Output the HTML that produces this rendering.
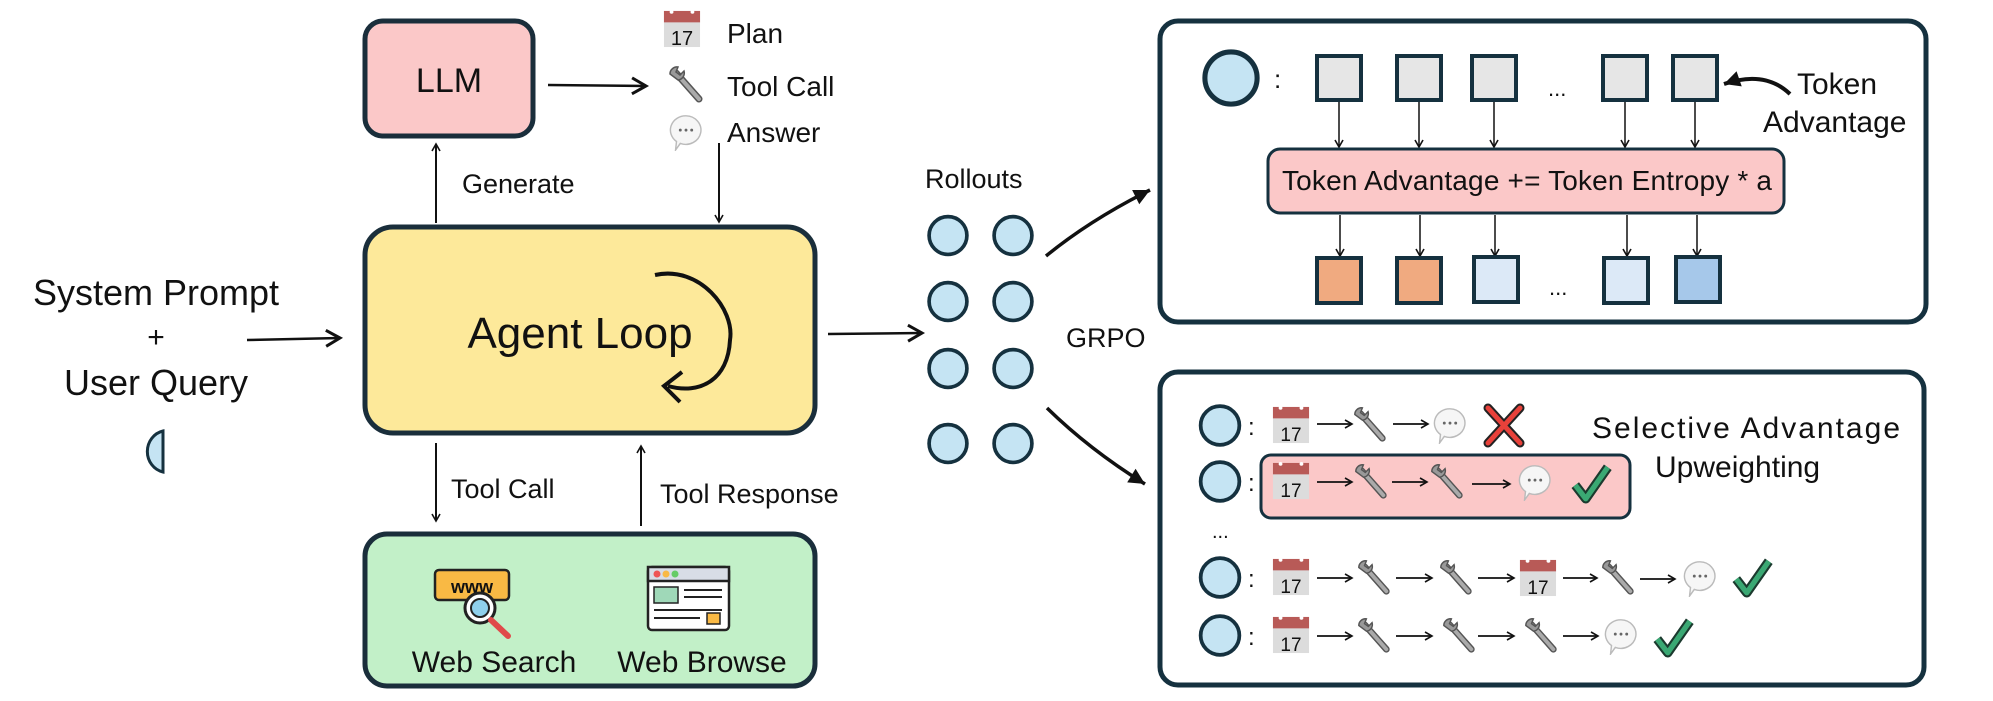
<!DOCTYPE html>
<html><head><meta charset="utf-8"><style>
html,body{margin:0;padding:0;background:#fff}
svg{display:block}
text{font-family:"Liberation Sans Narrow","Liberation Sans",sans-serif;fill:#111}
</style></head><body>
<svg width="1993" height="701" viewBox="0 0 1993 701" xmlns="http://www.w3.org/2000/svg">
<defs>
<marker id="ah" markerWidth="10" markerHeight="10" refX="8" refY="5" orient="auto" markerUnits="userSpaceOnUse"><path d="M1,1 L8,5 L1,9" fill="none" stroke="#111" stroke-width="1.6"/></marker>
<marker id="ahb" markerWidth="20" markerHeight="20" refX="16" refY="10" orient="auto" markerUnits="userSpaceOnUse"><path d="M2,2 L16,10 L2,18" fill="none" stroke="#111" stroke-width="3"/></marker>
<marker id="ahf" markerWidth="22" markerHeight="22" refX="18" refY="11" orient="auto" markerUnits="userSpaceOnUse"><path d="M2,3 L18,11 L2,19 Z" fill="#111"/></marker>
<symbol id="cal" viewBox="0 0 40 40"><rect x="1" y="1" width="38" height="38" fill="#dcdcdc"/><rect x="1" y="1" width="38" height="12" fill="#b85a57"/><circle cx="9" cy="2" r="2" fill="#fff"/><circle cx="31" cy="2" r="2" fill="#fff"/></symbol>
<symbol id="wr" viewBox="0 0 40 40"><line x1="10" y1="9" x2="33" y2="35" stroke="#555" stroke-width="7" stroke-linecap="round"/><line x1="10" y1="9" x2="33" y2="35" stroke="#aaa" stroke-width="4" stroke-linecap="round"/><path d="M4,10 A7,7 0 0 1 12,3 L10,8 L14,11 L18,7 A7,7 0 0 1 12,16 Z" fill="#999" stroke="#555" stroke-width="1.5"/></symbol>
<symbol id="bb" viewBox="0 0 40 40"><path d="M20,3 A16,15 0 1 1 14,32 L9,39 L10,30 A16,15 0 0 1 20,3 Z" fill="#f6f6f6" stroke="#bbb" stroke-width="1.5"/><circle cx="14" cy="18" r="1.5" fill="#666"/><circle cx="20" cy="18" r="1.5" fill="#666"/><circle cx="26" cy="18" r="1.5" fill="#666"/></symbol>
<symbol id="ck" viewBox="0 0 40 40"><path d="M5,22 L15,35 L36,5" fill="none" stroke="#1b3a2e" stroke-width="9" stroke-linejoin="round"/><path d="M5,22 L15,35 L36,5" fill="none" stroke="#3aa873" stroke-width="5" stroke-linejoin="round"/></symbol>
<symbol id="rc" viewBox="0 0 40 40"><circle cx="20" cy="20" r="18" fill="#c5e4f3" stroke="#15313f" stroke-width="3.5"/></symbol>
</defs>

<!-- LLM -->
<rect x="365" y="21" width="168" height="115" rx="18" fill="#fbc8c8" stroke="#1a2e3b" stroke-width="5"/>
<text x="449" y="92" font-size="34" text-anchor="middle">LLM</text>
<line x1="548" y1="85" x2="646" y2="86" stroke="#111" stroke-width="2.5" marker-end="url(#ahb)"/>

<!-- Plan / Tool Call / Answer -->
<use href="#cal" x="663" y="10" width="38" height="38"/><text x="682" y="45" font-size="20" fill="#555" text-anchor="middle">17</text>
<text x="727" y="43" font-size="28">Plan</text>
<use href="#wr" x="666" y="64" width="40" height="40"/>
<text x="727" y="96" font-size="28">Tool Call</text>
<use href="#bb" x="667" y="113" width="38" height="38"/>
<text x="727" y="142" font-size="28">Answer</text>
<line x1="719" y1="143" x2="719" y2="222" stroke="#111" stroke-width="2" marker-end="url(#ah)"/>

<!-- Generate -->
<line x1="436" y1="223" x2="436" y2="144" stroke="#111" stroke-width="2" marker-end="url(#ah)"/>
<text x="462" y="193" font-size="27">Generate</text>

<!-- Agent loop -->
<rect x="365" y="227" width="450" height="206" rx="28" fill="#fde99a" stroke="#1a2e3b" stroke-width="5"/>
<text x="580" y="348" font-size="44" text-anchor="middle">Agent Loop</text>
<path d="M655,275 C700,265 735,310 730,340 C728,380 700,395 668,386" fill="none" stroke="#111" stroke-width="4"/>
<path d="M682,372 L664,386 L680,402" fill="none" stroke="#111" stroke-width="4"/>

<!-- System prompt -->
<text x="156" y="305" font-size="36" text-anchor="middle">System Prompt</text>
<text x="156" y="347" font-size="30" text-anchor="middle">+</text>
<text x="156" y="395" font-size="36" text-anchor="middle">User Query</text>
<line x1="247" y1="340" x2="340" y2="338" stroke="#111" stroke-width="2.5" marker-end="url(#ahb)"/>
<path d="M163,431 A20,21 0 0 0 163,472 Z" fill="#c5e4f3" stroke="#15313f" stroke-width="3"/>

<!-- tool call / response -->
<line x1="436" y1="443" x2="436" y2="521" stroke="#111" stroke-width="2" marker-end="url(#ah)"/>
<text x="451" y="498" font-size="27">Tool Call</text>
<line x1="641" y1="526" x2="641" y2="446" stroke="#111" stroke-width="2" marker-end="url(#ah)"/>
<text x="660" y="503" font-size="27">Tool Response</text>

<!-- green -->
<rect x="365" y="534" width="450" height="152" rx="22" fill="#c2f0c8" stroke="#1a2e3b" stroke-width="5"/>
<rect x="435" y="570" width="74" height="30" rx="4" fill="#f9b944" stroke="#222" stroke-width="2.5"/>
<text x="472" y="593" font-size="18" text-anchor="middle" font-weight="bold">www</text>
<circle cx="480" cy="608" r="15" fill="#fff" stroke="#222" stroke-width="3"/>
<circle cx="480" cy="608" r="9" fill="#8fd0ec" stroke="#222" stroke-width="2"/>
<line x1="491" y1="620" x2="508" y2="636" stroke="#e04a4a" stroke-width="6" stroke-linecap="round"/>
<rect x="648" y="567" width="81" height="63" rx="4" fill="#fff" stroke="#222" stroke-width="2.5"/>
<rect x="648" y="567" width="81" height="14" fill="#d8dde6" stroke="#222" stroke-width="2.5"/>
<circle cx="657" cy="574" r="3.5" fill="#e55"/><circle cx="666" cy="574" r="3.5" fill="#f9b944"/><circle cx="675" cy="574" r="3.5" fill="#6c6"/>
<rect x="654" y="587" width="24" height="16" fill="#9fd8b8" stroke="#222" stroke-width="1.5"/>
<line x1="684" y1="590" x2="722" y2="590" stroke="#222" stroke-width="2"/><line x1="684" y1="597" x2="722" y2="597" stroke="#222" stroke-width="2"/><line x1="654" y1="610" x2="722" y2="610" stroke="#222" stroke-width="2"/><line x1="654" y1="618" x2="700" y2="618" stroke="#222" stroke-width="2"/>
<rect x="707" y="613" width="13" height="11" fill="#f9b944" stroke="#222" stroke-width="1.5"/>
<text x="494" y="672" font-size="30" text-anchor="middle">Web Search</text>
<text x="702" y="672" font-size="30" text-anchor="middle">Web Browse</text>

<!-- rollouts -->
<line x1="828" y1="334" x2="922" y2="333" stroke="#111" stroke-width="2.5" marker-end="url(#ahb)"/>
<text x="925" y="188" font-size="27">Rollouts</text>
<use href="#rc" x="927" y="214" width="42" height="43"/><use href="#rc" x="992" y="214" width="42" height="43"/>
<use href="#rc" x="927" y="280" width="42" height="43"/><use href="#rc" x="992" y="280" width="42" height="43"/>
<use href="#rc" x="927" y="347" width="42" height="43"/><use href="#rc" x="992" y="347" width="42" height="43"/>
<use href="#rc" x="927" y="422" width="42" height="43"/><use href="#rc" x="992" y="422" width="42" height="43"/>
<text x="1066" y="347" font-size="27">GRPO</text>
<path d="M1046,256 Q1090,220 1150,190" fill="none" stroke="#111" stroke-width="3.5" marker-end="url(#ahf)"/>
<path d="M1047,408 Q1090,450 1145,484" fill="none" stroke="#111" stroke-width="3.5" marker-end="url(#ahf)"/>

<!-- top box -->
<rect x="1160" y="21" width="766" height="301" rx="18" fill="#fff" stroke="#15313f" stroke-width="5"/>
<use href="#rc" x="1201" y="49" width="60" height="58"/>
<text x="1274" y="88" font-size="26">:</text>
<g fill="#e6e6e6" stroke="#15313f" stroke-width="4">
<rect x="1317" y="56" width="44" height="44"/><rect x="1397" y="56" width="44" height="44"/><rect x="1472" y="56" width="44" height="44"/><rect x="1603" y="56" width="44" height="44"/><rect x="1673" y="56" width="44" height="44"/>
</g>
<text x="1548" y="96" font-size="22">...</text>
<g stroke="#111" stroke-width="1.5" marker-end="url(#ah)">
<line x1="1339" y1="102" x2="1339" y2="147"/><line x1="1419" y1="102" x2="1419" y2="147"/><line x1="1494" y1="102" x2="1494" y2="147"/><line x1="1625" y1="102" x2="1625" y2="147"/><line x1="1695" y1="102" x2="1695" y2="147"/>
<line x1="1340" y1="215" x2="1340" y2="256"/><line x1="1420" y1="215" x2="1420" y2="256"/><line x1="1495" y1="215" x2="1495" y2="256"/><line x1="1627" y1="215" x2="1627" y2="256"/><line x1="1697" y1="215" x2="1697" y2="256"/>
</g>
<rect x="1268" y="149" width="516" height="64" rx="12" fill="#fbc8c8" stroke="#15313f" stroke-width="3"/>
<text x="1282" y="190" font-size="28" textLength="490">Token Advantage += Token Entropy * a</text>
<g stroke="#15313f" stroke-width="4">
<rect x="1317" y="258" width="44" height="45" fill="#f0aa80"/><rect x="1397" y="258" width="44" height="45" fill="#f0aa80"/><rect x="1474" y="257" width="44" height="45" fill="#dce9f7"/><rect x="1604" y="258" width="44" height="45" fill="#dce9f7"/><rect x="1676" y="257" width="44" height="45" fill="#a6c8ea"/>
</g>
<text x="1549" y="295" font-size="22">...</text>
<path d="M1790,94 Q1765,70 1724,84" fill="none" stroke="#111" stroke-width="4" marker-end="url(#ahf)"/>
<text x="1797" y="94" font-size="30">Token</text>
<text x="1763" y="132" font-size="30">Advantage</text>

<!-- bottom box -->
<rect x="1160" y="372" width="764" height="313" rx="18" fill="#fff" stroke="#15313f" stroke-width="5"/>
<rect x="1261" y="455" width="369" height="63" rx="10" fill="#fbc8c8" stroke="#15313f" stroke-width="3"/>
<text x="1592" y="438" font-size="30" textLength="308">Selective Advantage</text>
<text x="1655" y="477" font-size="30">Upweighting</text>
<text x="1212" y="538" font-size="20">...</text>

<g id="rows">
<!-- row1 y center 425 -->
<use href="#rc" x="1198" y="404" width="44" height="43"/><text x="1248" y="435" font-size="24">:</text>
<use href="#cal" x="1272" y="406" width="38" height="38"/><text x="1291" y="441" font-size="19" fill="#555" text-anchor="middle">17</text>
<line x1="1317" y1="424" x2="1352" y2="424" stroke="#111" stroke-width="1.8" marker-end="url(#ah)"/>
<use href="#wr" x="1351" y="405" width="38" height="38"/>
<line x1="1393" y1="424" x2="1428" y2="424" stroke="#111" stroke-width="1.8" marker-end="url(#ah)"/>
<use href="#bb" x="1431" y="406" width="38" height="38"/>
<path d="M1488,408 L1520,443 M1520,408 L1488,443" stroke="#222" stroke-width="9" stroke-linecap="round"/>
<path d="M1488,408 L1520,443 M1520,408 L1488,443" stroke="#e8413a" stroke-width="5" stroke-linecap="round"/>

<!-- row2 481 -->
<use href="#rc" x="1198" y="460" width="44" height="43"/><text x="1248" y="491" font-size="24">:</text>
<use href="#cal" x="1272" y="462" width="38" height="38"/><text x="1291" y="497" font-size="19" fill="#555" text-anchor="middle">17</text>
<line x1="1317" y1="482" x2="1352" y2="482" stroke="#111" stroke-width="1.8" marker-end="url(#ah)"/>
<use href="#wr" x="1352" y="462" width="38" height="38"/>
<line x1="1392" y1="482" x2="1427" y2="482" stroke="#111" stroke-width="1.8" marker-end="url(#ah)"/>
<use href="#wr" x="1428" y="462" width="38" height="38"/>
<line x1="1472" y1="484" x2="1510" y2="484" stroke="#111" stroke-width="1.8" marker-end="url(#ah)"/>
<use href="#bb" x="1516" y="463" width="38" height="38"/>
<use href="#ck" x="1570" y="462" width="42" height="42"/>

<!-- row3 577 -->
<use href="#rc" x="1198" y="556" width="44" height="43"/><text x="1248" y="587" font-size="24">:</text>
<use href="#cal" x="1272" y="558" width="38" height="38"/><text x="1291" y="593" font-size="19" fill="#555" text-anchor="middle">17</text>
<line x1="1317" y1="578" x2="1352" y2="578" stroke="#111" stroke-width="1.8" marker-end="url(#ah)"/>
<use href="#wr" x="1355" y="558" width="38" height="38"/>
<line x1="1396" y1="578" x2="1432" y2="578" stroke="#111" stroke-width="1.8" marker-end="url(#ah)"/>
<use href="#wr" x="1437" y="558" width="38" height="38"/>
<line x1="1478" y1="578" x2="1514" y2="578" stroke="#111" stroke-width="1.8" marker-end="url(#ah)"/>
<use href="#cal" x="1519" y="559" width="38" height="38"/><text x="1538" y="594" font-size="19" fill="#555" text-anchor="middle">17</text>
<line x1="1563" y1="578" x2="1597" y2="578" stroke="#111" stroke-width="1.8" marker-end="url(#ah)"/>
<use href="#wr" x="1599" y="558" width="38" height="38"/>
<line x1="1640" y1="579" x2="1675" y2="579" stroke="#111" stroke-width="1.8" marker-end="url(#ah)"/>
<use href="#bb" x="1681" y="559" width="38" height="38"/>
<use href="#ck" x="1731" y="556" width="42" height="42"/>

<!-- row4 635 -->
<use href="#rc" x="1198" y="614" width="44" height="43"/><text x="1248" y="645" font-size="24">:</text>
<use href="#cal" x="1272" y="616" width="38" height="38"/><text x="1291" y="651" font-size="19" fill="#555" text-anchor="middle">17</text>
<line x1="1317" y1="636" x2="1352" y2="636" stroke="#111" stroke-width="1.8" marker-end="url(#ah)"/>
<use href="#wr" x="1355" y="616" width="38" height="38"/>
<line x1="1396" y1="636" x2="1432" y2="636" stroke="#111" stroke-width="1.8" marker-end="url(#ah)"/>
<use href="#wr" x="1440" y="616" width="38" height="38"/>
<line x1="1478" y1="636" x2="1514" y2="636" stroke="#111" stroke-width="1.8" marker-end="url(#ah)"/>
<use href="#wr" x="1522" y="616" width="38" height="38"/>
<line x1="1563" y1="636" x2="1598" y2="636" stroke="#111" stroke-width="1.8" marker-end="url(#ah)"/>
<use href="#bb" x="1602" y="617" width="38" height="38"/>
<use href="#ck" x="1652" y="616" width="42" height="42"/>
</g>
</svg>
</body></html>
